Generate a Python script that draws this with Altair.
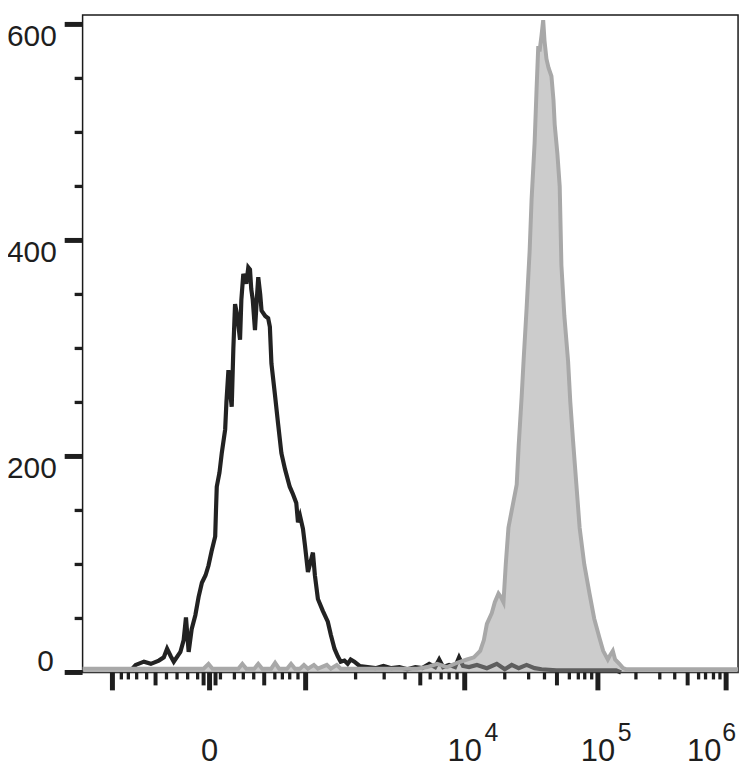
import altair as alt
import pandas as pd

# Display channel scale (0-1000) of a biexponential flow-cytometry axis
# --- black (unstained / control) histogram ---
black_ch = [75.4, 81.0, 93.6, 104.2, 116.3, 123.9, 128.9, 134.5, 139.1, 149.2, 154.2, 157.7,
            161.8, 166.4, 172.0, 177.0, 182.0, 187.6, 192.1, 196.7, 202.3, 203.5, 204.7, 208.8,
            212.3, 217.5, 219.4, 222.5, 224.7, 227.5, 230.0, 232.6, 236.1, 240.2, 242.2, 245.2,
            249.8, 252.8, 255.4, 257.3, 259.6, 263.0, 265.7, 268.0, 271.0, 273.0, 278.6, 283.1,
            285.7, 288.1, 293.3, 298.3, 303.3, 308.9, 316.0, 321.0, 326.0, 328.6, 331.7, 336.2,
            339.2, 343.8, 346.8, 351.4, 354.4, 359.0, 366.5, 374.1, 378.7, 384.3, 389.3, 393.8,
            399.4, 404.4, 409.0, 414.6, 422.6, 434.8, 446.9, 459.0, 471.2, 483.3, 495.4, 507.6,
            518.2, 528.8, 537.9, 544.0, 550.0, 559.1, 568.2, 574.3, 580.4, 589.5, 601.6, 616.8,
            631.9, 644.1, 654.7, 665.3, 677.4, 689.6, 700.2, 722.9, 753.2, 783.6, 813.9, 821.5]
black_count = [3, 7, 10, 8, 11, 14, 22, 15, 10, 19, 30, 51,
               19, 40, 53, 70, 83, 90, 99, 112, 126, 150, 172, 185,
               203, 225, 250, 280, 262, 246, 300, 341, 330, 308, 345, 369,
               360, 375, 373, 355, 345, 317, 345, 366, 350, 335, 330, 328,
               320, 286, 258, 230, 203, 188, 172, 165, 157, 139, 145, 133,
               118, 93, 100, 111, 90, 68, 57, 47, 35, 22, 15, 10,
               11, 8, 12, 10, 6, 5, 4, 6, 4, 5, 3, 5,
               4, 8, 5, 12, 5, 7, 5, 14, 6, 5, 7, 4,
               8, 3, 7, 4, 7, 4, 3, 2, 2, 2, 2, 0]

# --- grey (stained) histogram ---
grey_ch = [0, 177.0, 184.6, 192.1, 198.2, 237.6, 243.7, 249.8, 261.9, 268.0, 274.0, 287.7,
           293.7, 299.8, 311.9, 318.0, 324.1, 331.7, 337.7, 343.8, 352.9, 359.0, 372.6, 378.7,
           387.8, 393.8, 404.4, 510.6, 525.8, 540.9, 556.1, 571.3, 586.4, 597.0, 606.6, 612.2,
           616.8, 624.3, 628.9, 634.5, 638.0, 642.1, 645.6, 649.7, 654.7, 662.3, 665.3, 669.8,
           672.9, 677.4, 682.0, 685.0, 689.6, 692.6, 695.2, 697.1, 700.2, 702.7, 704.7, 707.7,
           710.8, 715.3, 718.4, 720.3, 724.4, 727.9, 730.5, 735.0, 740.7, 744.1, 748.2, 753.2,
           758.3, 765.4, 773.4, 780.5, 788.6, 794.2, 801.3, 804.8, 808.9, 812.4, 818.9, 824.5,
           829.1, 1000]
grey_count = [3.5, 3.5, 3.5, 8, 3.5, 3.5, 8, 3.5, 3.5, 8, 3.5, 3.5,
              9, 3.5, 3.5, 8, 3.5, 3.5, 7, 3.5, 7, 3.5, 7, 3.5,
              7, 3.5, 3.5, 3.5, 5, 8, 5, 9, 12, 14, 20, 30,
              45, 55, 65, 73, 70, 65, 100, 134, 150, 174, 210, 255,
              290, 337, 390, 438, 490, 540, 580, 575, 590, 604, 585, 568,
              560, 552, 530, 507, 480, 450, 377, 330, 288, 250, 215, 175,
              134, 100, 73, 50, 32, 20, 12, 16, 20, 12, 8, 4,
              3, 3]

# --- axis ticks (channel positions) ---
x_major = [45.5, 193.7, 340.3, 583.0, 786.2, 981.8]           # -10^3, 0, 10^3, 10^4, 10^5, 10^6
x_medium = [111.3, 184.6, 202.8, 277.1, 515.2, 723.7, 923.1]
x_minor = [59.1, 69.8, 82.5, 97.7, 128.0, 144.1, 160.3, 175.5,
           210.3, 231.6, 245.2, 261.1, 293.3, 304.8, 316.0, 328.6,
           416.5, 460.1, 492.0, 530.3, 547.0, 559.2, 571.3,
           644.1, 680.5, 704.7, 742.6, 756.3, 766.1, 776.7,
           844.2, 880.6, 903.4, 939.8, 950.4, 962.5, 972.4]
y_major = [0, 200, 400, 600]
y_minor = [50, 100, 150, 250, 300, 350, 450, 500, 550]

x_label_pos = [193.7, 583.0, 786.2]
x_label_base = ["0", "10", "10"]
x_sup_pos = [583.0, 786.2]
x_sup_text = ["4", "5"]
x_last_pos = [981.8]
x_last_base = ["10"]
x_last_sup = ["6"]

W, H = 659, 661
FONT = "Liberation Sans, Arial, sans-serif"
DARK = "#1e1e1e"

xs = alt.Scale(domain=[0, 1000], nice=False, zero=False)
ys = alt.Scale(domain=[0, 608.7], nice=False, zero=False)

black_df = pd.DataFrame({"ch": black_ch, "count": black_count})
grey_df = pd.DataFrame({"ch": grey_ch, "count": grey_count})

black_line = alt.Chart(black_df).mark_line(color="#222222", strokeWidth=4.2).encode(
    x=alt.X("ch:Q", scale=xs, axis=None),
    y=alt.Y("count:Q", scale=ys, axis=None),
)
grey_area = alt.Chart(grey_df).mark_area(fill="#9a9a9a", fillOpacity=0.5).encode(
    x=alt.X("ch:Q", scale=xs, axis=None),
    y=alt.Y("count:Q", scale=ys, axis=None),
)
grey_line = alt.Chart(grey_df).mark_line(color="#a8a8a8", strokeWidth=4).encode(
    x=alt.X("ch:Q", scale=xs, axis=None),
    y=alt.Y("count:Q", scale=ys, axis=None),
)


def xticks(vals, length, width):
    return alt.Chart(pd.DataFrame({"ch": vals})).mark_rule(color=DARK, strokeWidth=width).encode(
        x=alt.X("ch:Q", scale=xs, axis=None),
        y=alt.value(H),
        y2=alt.value(H + length),
    )


def yticks(vals, length, width):
    return alt.Chart(pd.DataFrame({"v": vals})).mark_rule(color=DARK, strokeWidth=width).encode(
        y=alt.Y("v:Q", scale=ys, axis=None),
        x=alt.value(-length),
        x2=alt.value(0),
    )


ylab_top = alt.Chart(pd.DataFrame({"v": [200, 400, 600], "t": ["200", "400", "600"]})).mark_text(
    font=FONT, fontSize=30, color=DARK, align="right", baseline="top", dy=-2
).encode(y=alt.Y("v:Q", scale=ys, axis=None), x=alt.value(-26), text="t:N")
ylab_zero = alt.Chart(pd.DataFrame({"v": [0], "t": ["0"]})).mark_text(
    font=FONT, fontSize=30, color=DARK, align="right", baseline="alphabetic", dy=-1.5
).encode(y=alt.Y("v:Q", scale=ys, axis=None), x=alt.value(-29), text="t:N")

xlab = alt.Chart(pd.DataFrame({"ch": x_label_pos, "t": x_label_base})).mark_text(
    font=FONT, fontSize=31, color=DARK, align="center", baseline="alphabetic"
).encode(x=alt.X("ch:Q", scale=xs, axis=None), y=alt.value(750), text="t:N")
xsup = alt.Chart(pd.DataFrame({"ch": x_sup_pos, "t": x_sup_text})).mark_text(
    font=FONT, fontSize=25, color=DARK, align="left", baseline="alphabetic", dx=20
).encode(x=alt.X("ch:Q", scale=xs, axis=None), y=alt.value(730), text="t:N")
xlast = alt.Chart(pd.DataFrame({"ch": x_last_pos, "t": x_last_base})).mark_text(
    font=FONT, fontSize=31, color=DARK, align="center", baseline="alphabetic", dx=-22
).encode(x=alt.X("ch:Q", scale=xs, axis=None), y=alt.value(750), text="t:N")
xlast_sup = alt.Chart(pd.DataFrame({"ch": x_last_pos, "t": x_last_sup})).mark_text(
    font=FONT, fontSize=25, color=DARK, align="left", baseline="alphabetic", dx=-4
).encode(x=alt.X("ch:Q", scale=xs, axis=None), y=alt.value(730), text="t:N")

chart = alt.layer(
    black_line, grey_area, grey_line,
    xticks(x_minor, 7, 3.3), xticks(x_medium, 13, 4), xticks(x_major, 18, 5),
    yticks(y_minor, 8, 3.3), yticks(y_major, 18, 5),
    ylab_top, ylab_zero, xlab, xsup, xlast, xlast_sup,
).properties(
    width=W, height=H,
    padding={"left": 75, "top": 5, "right": 10, "bottom": 95},
    autosize=alt.AutoSizeParams(type="none"),
    background="white",
).configure_view(stroke="#1a1a1a", strokeWidth=1.5)

chart.save("out.html", embed_options={"renderer": "svg", "actions": False})
